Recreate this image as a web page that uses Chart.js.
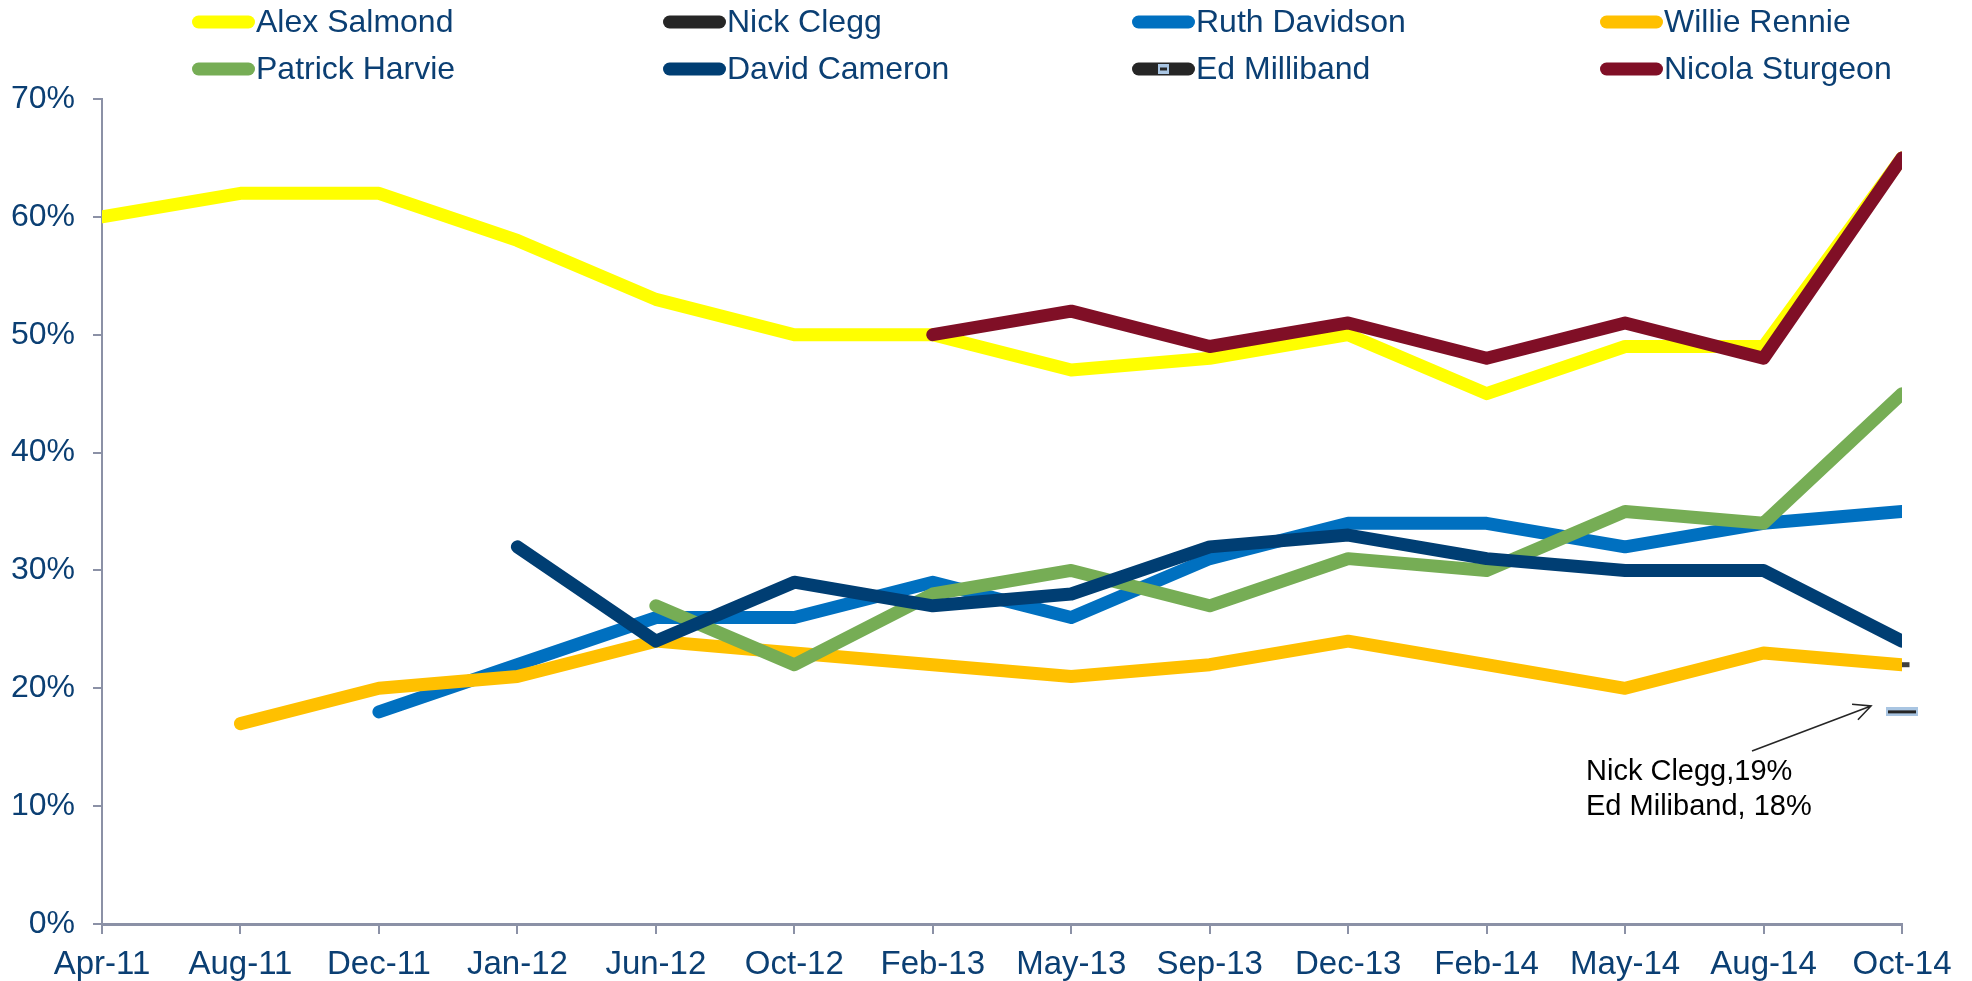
<!DOCTYPE html>
<html>
<head>
<meta charset="utf-8">
<script src="https://cdn.jsdelivr.net/npm/chart.js@4"></script>
<style>
  html, body { margin: 0; padding: 0; background: #fff; }
  #wrap { width: 1972px; height: 981px; position: relative; }
</style>
</head>
<body>
<div id="wrap"><canvas id="lineChart"></canvas></div>
<script>
const TEXT = '#0B3F73';
const AXIS = '#8B91A6';
const FONT = 'Arial, "Liberation Sans", sans-serif';

// categories and tick labels
const labels = ['Apr-11', 'Aug-11', 'Dec-11', 'Jan-12', 'Jun-12', 'Oct-12', 'Feb-13',
    'May-13', 'Sep-13', 'Dec-13', 'Feb-14', 'May-14', 'Aug-14', 'Oct-14'];
const yTicks = [0, 10, 20, 30, 40, 50, 60, 70];

// series, in %
const alexSalmond    = [60, 62, 62, 58, 53, 50, 50, 47, 48, 50, 45, 49, 49, 65];
const nickClegg      = [null, null, null, null, null, null, null, null, null, null, null, null, null, 22];
const ruthDavidson   = [null, null, 18, 22, 26, 26, 29, 26, 31, 34, 34, 32, 34, 35];
const willieRennie   = [null, 17, 20, 21, 24, 23, 22, 21, 22, 24, 22, 20, 23, 22];
const patrickHarvie  = [null, null, null, null, 27, 22, 28, 30, 27, 31, 30, 35, 34, 45];
const davidCameron   = [null, null, null, 32, 24, 29, 27, 28, 32, 33, 31, 30, 30, 24];
const edMilliband    = [null, null, null, null, null, null, null, null, null, null, null, null, null, 18];
const nicolaSturgeon = [null, null, null, null, null, null, 50, 52, 49, 51, 48, 51, 48, 65];

const noteLines = ['Nick Clegg,19%', 'Ed Miliband, 18%'];

// Ed Milliband marker: dark dash with light blue frame
const edMark = document.createElement('canvas');
edMark.width = 32; edMark.height = 9;
(function () {
    const c = edMark.getContext('2d');
    c.fillStyle = '#A9C5E2';
    c.fillRect(0, 0, 32, 9);
    c.fillStyle = '#262626';
    c.fillRect(2, 3, 28, 3);
})();

function lineSet(label, data, color) {
    return {
        label, data,
        borderColor: color,
        backgroundColor: color,
        borderWidth: 13,
        pointRadius: 0,
        tension: 0,
        borderCapStyle: 'round',
        borderJoinStyle: 'round',
        spanGaps: false,
        clip: 0,
    };
}

const datasets = [
    lineSet('Alex Salmond', alexSalmond, '#FFFF00'),
    Object.assign(lineSet('Nick Clegg', nickClegg, '#262626'), {
        showLine: false, pointStyle: 'line', pointRadius: 7.5, pointBorderWidth: 5,
        pointBorderColor: '#404040', clip: false
    }),
    lineSet('Ruth Davidson', ruthDavidson, '#0070C0'),
    lineSet('Willie Rennie', willieRennie, '#FFC000'),
    lineSet('Patrick Harvie', patrickHarvie, '#76AD55'),
    lineSet('David Cameron', davidCameron, '#003E73'),
    Object.assign(lineSet('Ed Milliband', edMilliband, '#262626'), {
        showLine: false, pointStyle: edMark, pointRadius: 16, clip: false
    }),
    lineSet('Nicola Sturgeon', nicolaSturgeon, '#800F26'),
];
// later series drawn on top
datasets.forEach((d, i) => { d.order = datasets.length - i; });

// legend laid out in a fixed 4x2 grid
const legendGrid = {
    id: 'legendGrid',
    afterDraw(chart) {
        const ctx = chart.ctx;
        const colX = [192, 663, 1132, 1600];
        const rowY = [22, 69];
        ctx.save();
        ctx.font = '32px ' + FONT;
        ctx.textBaseline = 'middle';
        chart.data.datasets.forEach((ds, i) => {
            const x = colX[i % 4];
            const y = rowY[Math.floor(i / 4)];
            ctx.lineCap = 'round';
            ctx.lineWidth = 13;
            ctx.strokeStyle = ds.borderColor;
            ctx.beginPath();
            ctx.moveTo(x + 6.5, y);
            ctx.lineTo(x + 56.5, y);
            ctx.stroke();
            if (ds.pointStyle instanceof HTMLCanvasElement) {
                ctx.fillStyle = '#A9C5E2';
                ctx.fillRect(x + 26, y - 5, 11, 10);
                ctx.fillStyle = '#262626';
                ctx.fillRect(x + 28, y - 1.5, 7, 3);
            }
            ctx.fillStyle = TEXT;
            ctx.fillText(ds.label, x + 64, y + 1);
        });
        ctx.restore();
    }
};

// callout arrow and text for the two single-point series
const callout = {
    id: 'callout',
    afterDraw(chart) {
        const xs = chart.scales.x, ys = chart.scales.y;
        const tipX = xs.getPixelForValue(labels.length - 1) - 31;
        const tipY = ys.getPixelForValue(18.5);
        const sx = tipX - 119, sy = tipY + 45;
        const ctx = chart.ctx;
        ctx.save();
        ctx.strokeStyle = '#262626';
        ctx.lineWidth = 1.6;
        ctx.beginPath();
        ctx.moveTo(sx, sy);
        ctx.lineTo(tipX, tipY);
        const a = Math.atan2(tipY - sy, tipX - sx);
        ctx.moveTo(tipX - 19 * Math.cos(a - 0.45), tipY - 19 * Math.sin(a - 0.45));
        ctx.lineTo(tipX, tipY);
        ctx.lineTo(tipX - 19 * Math.cos(a + 0.45), tipY - 19 * Math.sin(a + 0.45));
        ctx.stroke();
        ctx.fillStyle = '#000';
        ctx.font = '29px ' + FONT;
        ctx.textBaseline = 'alphabetic';
        ctx.fillText(noteLines[0], tipX - 285, tipY + 74);
        ctx.fillText(noteLines[1], tipX - 285, tipY + 109);
        ctx.restore();
    }
};

new Chart(document.getElementById('lineChart'), {
    type: 'line',
    data: { labels, datasets },
    options: {
        responsive: true,
        maintainAspectRatio: false,
        animation: false,
        layout: { padding: { top: 99, right: 70, left: 0, bottom: 0 } },
        plugins: {
            legend: { display: false },
            tooltip: { enabled: false }
        },
        scales: {
            x: {
                offset: false,
                grid: { display: true, drawOnChartArea: false, drawTicks: true, tickLength: 10, color: AXIS, lineWidth: 2 },
                border: { display: true, color: AXIS, width: 3 },
                ticks: { color: TEXT, font: { family: FONT, size: 33 }, padding: 11, maxRotation: 0, autoSkip: false },
                afterFit(scale) { scale.height = 57; }
            },
            y: {
                min: 0,
                max: 70,
                afterBuildTicks(scale) { scale.ticks = yTicks.map(v => ({ value: v })); },
                grid: { display: true, drawOnChartArea: false, drawTicks: true, tickLength: 9, color: AXIS, lineWidth: 2 },
                border: { display: true, color: AXIS, width: 2 },
                ticks: { color: TEXT, font: { family: FONT, size: 32 }, padding: 18, callback: v => v + '%' },
                afterFit(scale) { scale.width = 102; }
            }
        }
    },
    plugins: [legendGrid, callout]
});
</script>
</body>
</html>
